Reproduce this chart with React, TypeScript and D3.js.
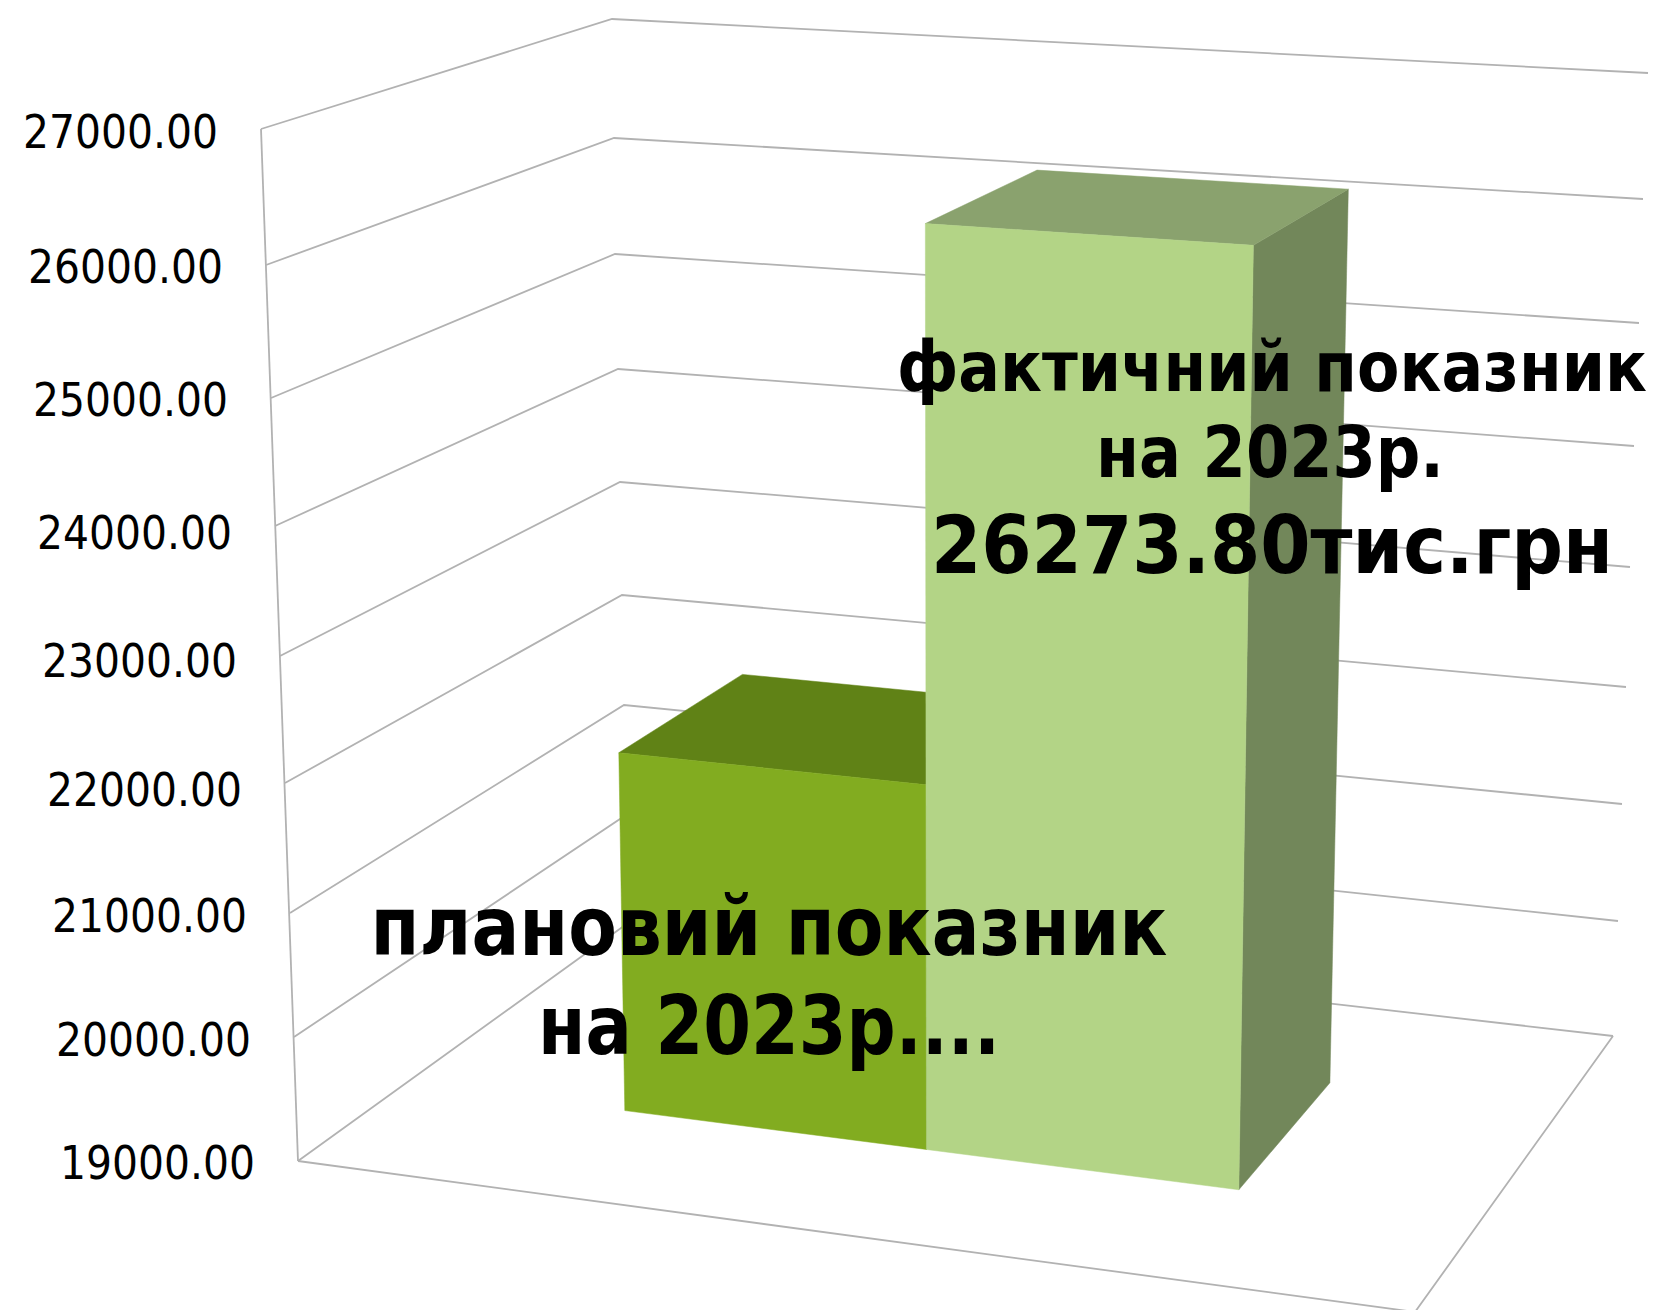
import { useEffect, useRef } from "react";
import * as d3 from "d3";

const categories = ["плановий", "фактичний"];
const values = [21930, 26273.8];
const tickValues = [19000, 20000, 21000, 22000, 23000, 24000, 25000, 26000, 27000];

const planLabel = ["плановий показник", "на 2023р...."];
const factLabel = ["фактичний показник", "на 2023р.", "26273.80тис.грн"];

// where each tick lands on the three visible vertical edges of the 3D box
const frontX = [298, 294, 290, 285, 280, 275, 271, 266, 261];
const frontY = [1161, 1037, 913, 783, 656, 526, 398, 265, 129];
const cornerX = [628, 626, 624, 622, 620, 618, 615, 614, 612];
const cornerY = [923, 815, 705, 595, 482, 369, 254, 138, 19];
const backX = [1613, 1618, 1622, 1626, 1630, 1634, 1639, 1643, 1648];
const backY = [1036, 921, 804, 687, 567, 446, 323, 199, 73];
const labelDy = [18, 19, 19, 23, 21, 23, 18, 18, 19];
const floorCorner = { x: 1415, y: 1312 };

const W = 1659;
const H = 1310;
const FONT = "'DejaVu Sans', sans-serif";

const App = () => {
  const svgRef = useRef<SVGSVGElement>(null);

  useEffect(() => {
    if (!svgRef.current) return;
    const svg = d3.select(svgRef.current);
    svg.selectAll("*").remove();

    const ax = d3.scaleLinear().domain(tickValues).range(frontX);
    const ay = d3.scaleLinear().domain(tickValues).range(frontY);
    const bx = d3.scaleLinear().domain(tickValues).range(cornerX);
    const by = d3.scaleLinear().domain(tickValues).range(cornerY);
    const cx = d3.scaleLinear().domain(tickValues).range(backX);
    const cy = d3.scaleLinear().domain(tickValues).range(backY);
    const base = tickValues[0];
    const lean = d3.scaleLinear().domain([base, 27000]).range([0, 1]);

    // hidden front right edge, off the bottom of the picture
    const dx = (v: number) =>
      floorCorner.x + ax(v) - ax(base) + cx(v) - cx(base) - bx(v) + bx(base) + 13 * lean(v);
    const dy = (v: number) =>
      floorCorner.y + ay(v) - ay(base) + cy(v) - cy(base) - by(v) + by(base) - 16 * lean(v);

    // u along the categories, d into the depth, v the value
    const project = (u: number, d: number, v: number): [number, number] => {
      const lx = ax(v) + (bx(v) - ax(v)) * d;
      const ly = ay(v) + (by(v) - ay(v)) * d;
      const rx = dx(v) + (cx(v) - dx(v)) * d;
      const ry = dy(v) + (cy(v) - dy(v)) * d;
      return [lx + (rx - lx) * u, ly + (ry - ly) * u];
    };

    const xBand = d3.scaleBand().domain(categories).range([0.2, 0.78]);
    // bars get wider toward the viewer
    const warp = d3.scaleLinear().domain([0.2, 0.49, 0.78]).range([0.203, 0.484, 0.775]);
    const depth = d3.scaleLinear().domain([0, 1]).range([0.33, 0.73]);
    const line = d3.line();
    const closed = d3.line().curve(d3.curveLinearClosed);

    const grid = svg.append("g").attr("fill", "none").attr("stroke", "#b2b2b2").attr("stroke-width", 1.8);

    tickValues.forEach((t) => {
      grid
        .append("path")
        .attr("d", line([[ax(t), ay(t)], [bx(t), by(t)], [cx(t), cy(t)]]));
    });
    grid.append("path").attr("d", line([[ax(base), ay(base)], [ax(27000), ay(27000)]]));
    grid
      .append("path")
      .attr("d", line([[ax(base), ay(base)], [floorCorner.x, floorCorner.y], [cx(base), cy(base)]]));

    const faces = [
      { front: "#82ac20", top: "#608216", side: "#4f6b12" },
      { front: "#b3d486", top: "#8aa26e", side: "#72875a" },
    ];

    categories.forEach((c, i) => {
      const start = xBand(c) as number;
      const u0 = warp(start);
      const u1 = warp(start + xBand.bandwidth());
      const d0 = depth(0);
      const d1 = depth(1);
      const v = values[i];
      const g = svg.append("g");
      g.append("path")
        .attr("fill", faces[i].side)
        .attr("stroke", faces[i].side)
        .attr("stroke-width", 0.5)
        .attr("d", closed([project(u1, d0, base), project(u1, d1, base), project(u1, d1, v), project(u1, d0, v)]));
      g.append("path")
        .attr("fill", faces[i].top)
        .attr("stroke", faces[i].top)
        .attr("stroke-width", 0.5)
        .attr("d", closed([project(u0, d0, v), project(u1, d0, v), project(u1, d1, v), project(u0, d1, v)]));
      g.append("path")
        .attr("fill", faces[i].front)
        .attr("stroke", faces[i].front)
        .attr("stroke-width", 0.5)
        .attr("d", closed([project(u0, d0, base), project(u1, d0, base), project(u1, d0, v), project(u0, d0, v)]));
    });

    svg
      .append("g")
      .selectAll("text")
      .data(tickValues)
      .join("text")
      .attr("x", (t) => ax(t) - 43)
      .attr("y", (t, i) => ay(t) + labelDy[i])
      .attr("text-anchor", "end")
      .attr("font-family", FONT)
      .attr("font-size", 46)
      .attr("textLength", 195)
      .attr("lengthAdjust", "spacingAndGlyphs")
      .style("font-stretch", "condensed")
      .text((t) => t.toFixed(2));

    const addLabel = (lines: string[], x: number[], ys: number[], sizes: number[], widths: number[]) => {
      lines.forEach((s, i) => {
        svg
          .append("text")
          .attr("x", x[i])
          .attr("y", ys[i])
          .attr("text-anchor", "middle")
          .attr("font-family", FONT)
          .attr("font-weight", "bold")
          .attr("font-size", sizes[i])
          .attr("textLength", widths[i])
          .attr("lengthAdjust", "spacingAndGlyphs")
          .style("font-stretch", "condensed")
          .text(s);
      });
    };
    addLabel(planLabel, [769, 769], [955, 1054], [82, 82], [797, 462]);
    addLabel(factLabel, [1272, 1270, 1272], [391, 477, 573], [69, 71, 80], [750, 348, 682]);
  }, []);

  return (
    <svg
      ref={svgRef}
      width={W}
      height={H}
      viewBox={`0 0 ${W} ${H}`}
      style={{ position: "absolute", left: 0, top: 0, background: "#fff" }}
    />
  );
};

export default App;
